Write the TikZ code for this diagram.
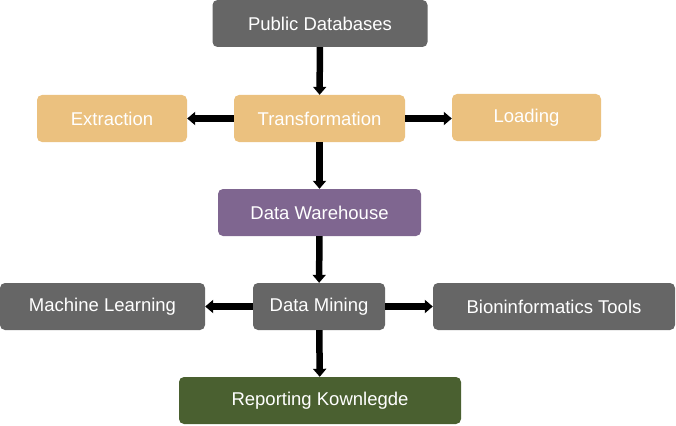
\documentclass[tikz,border=0pt]{standalone}
\usepackage{fontspec}
\setmainfont{Liberation Sans}
\usetikzlibrary{arrows.meta, positioning}
\definecolor{boxgray}{HTML}{666666}
\definecolor{boxtan}{HTML}{EBC17F}
\definecolor{boxpurple}{HTML}{7F6690}
\definecolor{boxgreen}{HTML}{4A6030}

\begin{document}
\begin{tikzpicture}[x=1pt, y=-1pt,
    box/.style={rectangle, rounded corners=5pt, minimum height=47pt, inner sep=0pt, align=center, text=white, font=\fontsize{18.5}{22}\selectfont},
    grey/.style={box, fill=boxgray},
    tan/.style={box, fill=boxtan},
    purple/.style={box, fill=boxpurple},
    green/.style={box, fill=boxgreen},
    flow/.style={line width=6.5pt, -{Triangle[length=8pt, width=13pt]}}]
\useasboundingbox (0,0) rectangle (676,425);
% nodes
\node[grey, minimum width=215pt] (pub) at (320,23.5) {Public Databases};
\node[tan, minimum width=150pt] (ext) at (112,118.5) {Extraction};
\node[tan, minimum width=171pt] (trans) at (319.5,118.5) {Transformation};
\node[tan, minimum width=149pt] (load) at (526.5,117.5) {Loading};
\node[purple, minimum width=203pt] (dw) at (319.5,212.5) {Data Warehouse};
\node[grey, minimum width=205pt] (ml) at (102.5,306.5) {Machine Learning};
\node[grey, minimum width=132pt] (dm) at (319,306.5) {Data Mining};
\node[grey, minimum width=242pt] (bio) at (554,306.5) {Bioninformatics Tools};
\node[green, minimum width=282pt] (rep) at (320,400.5) {Reporting Kownlegde};
% arrows
\draw[flow] (pub) -- (trans);
\draw[flow] (trans) -- (ext);
\draw[flow] (trans) -- (trans -| load.west);
\draw[flow] (trans) -- (dw);
\draw[flow] (dw) -- (dm);
\draw[flow] (dm) -- (ml);
\draw[flow] (dm) -- (bio);
\draw[flow] (dm) -- (rep);
\end{tikzpicture}
\end{document}
